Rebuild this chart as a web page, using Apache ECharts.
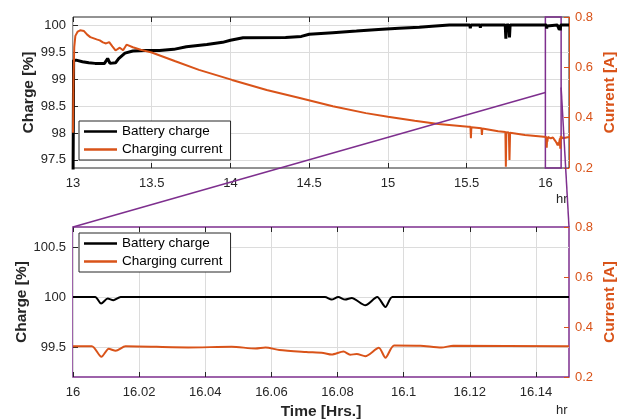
<!DOCTYPE html>
<html>
<head>
<meta charset="utf-8">
<script src="https://cdn.jsdelivr.net/npm/echarts@6/dist/echarts.min.js"></script>
<style>html,body{margin:0;padding:0;background:#fff}#c{width:628px;height:419px}</style>
</head>
<body>
<div id="c"></div>
<script>
// ---- Data ----
// Overview (top) segment, hours 13 .. 16
const topTime   = [13.000,13.004,13.02,13.06,13.10,13.14,13.20,13.22,13.235,13.27,13.29,13.33,13.38,13.45,13.55,13.64,13.72,13.85,13.95,14.00,14.08,14.35,14.45,14.50,14.65,14.80,14.94,15.07,15.20,15.28,15.39,15.52,15.523,15.527,15.585,15.587,15.59,15.745,15.749,15.753,15.768,15.772,15.776,15.99];
const topCharge = [97.0,99.35,99.35,99.32,99.30,99.29,99.29,99.38,99.29,99.30,99.38,99.48,99.52,99.53,99.53,99.55,99.60,99.64,99.68,99.72,99.765,99.77,99.79,99.83,99.86,99.89,99.92,99.94,99.96,99.98,100,100,99.94,100,100,99.95,100,100,99.75,100,100,99.77,100,100];
const curTime   = [13.000,13.003,13.008,13.015,13.03,13.045,13.07,13.09,13.11,13.15,13.17,13.19,13.21,13.23,13.25,13.27,13.297,13.318,13.34,13.38,13.43,13.50,13.56,13.65,13.80,14.01,14.23,14.44,14.65,14.86,15.00,15.17,15.32,15.51,15.524,15.527,15.530,15.594,15.597,15.600,15.70,15.746,15.749,15.752,15.768,15.772,15.776,15.87,15.99];
const topCurrent= [0.34,0.55,0.68,0.725,0.742,0.747,0.744,0.73,0.72,0.711,0.707,0.699,0.695,0.700,0.683,0.667,0.678,0.668,0.690,0.680,0.670,0.659,0.645,0.624,0.590,0.550,0.510,0.478,0.445,0.418,0.404,0.388,0.375,0.364,0.364,0.318,0.362,0.358,0.331,0.357,0.346,0.343,0.205,0.342,0.341,0.232,0.340,0.331,0.324];
// Detail (zoomed) segment, hours 16 .. 16.15
const detChargeTime = [16.000,16.0067,16.0085,16.0105,16.0122,16.0144,16.0762,16.0782,16.0802,16.0823,16.0843,16.0884,16.092,16.0945,16.0966,16.150];
const detCharge     = [100,100,99.934,99.984,99.967,100,100,99.974,100,99.974,99.99,99.917,100,99.9,100,100];
const detCurTime    = [16.000,16.0057,16.0086,16.0108,16.0129,16.0159,16.0348,16.048,16.0552,16.0582,16.0624,16.0705,16.0757,16.0782,16.0818,16.0838,16.0858,16.0884,16.0925,16.0945,16.0971,16.105,16.1114,16.115,16.150];
const detCurrent    = [0.323,0.323,0.281,0.313,0.305,0.323,0.318,0.321,0.314,0.318,0.308,0.300,0.296,0.290,0.302,0.289,0.292,0.283,0.317,0.277,0.326,0.325,0.318,0.325,0.323];
// Tick labels
const topXTicks = [13,13.5,14,14.5,15,15.5,16];
const topYTicks = [97.5,98,98.5,99,99.5,100];
const botXTicks = [16,16.02,16.04,16.06,16.08,16.1,16.12,16.14];
const botYTicks = [99.5,100,100.5];
const curTicks  = [0.2,0.4,0.6,0.8];
const seriesNames = ['Battery charge','Charging current'];

// ---- Styles ----
const FONT = 'Liberation Sans, Arial, Helvetica, sans-serif';
const AX = '#262626', GRIDC = '#dcdcdc', ORANGE = '#D95319', PURPLE = '#7E2F8E';
const zip = (a,b) => a.map((v,i)=>[v,b[i]]);
const topChargeData = zip(topTime, topCharge).concat(zip(detChargeTime, detCharge));
const topCurData = zip(curTime, topCurrent).concat(zip(detCurTime, detCurrent));

function xAxisDef(grid, min, max, ticks, pos, showLabel, name) {
  return {
    type:'value', gridIndex:grid, min:min, max:max, position:pos,
    axisLine:{show:false},
    axisTick:{show:true, inside:true, length:5, customValues:ticks, lineStyle:{color:AX}},
    axisLabel:{show:showLabel, customValues:ticks, color:AX, fontFamily:FONT, fontSize:13, margin:9},
    splitLine:{show:showLabel, lineStyle:{color:GRIDC, width:1}},
    name: name || '', nameLocation:'middle', nameGap:27, nameMoveOverlap:false,
    nameTextStyle:{color:AX, fontFamily:FONT, fontSize:15.5, fontWeight:'bold'}
  };
}
function leftY(grid, min, max, ticks, gap) {
  return {
    type:'value', gridIndex:grid, min:min, max:max, position:'left',
    axisLine:{show:false},
    axisTick:{show:true, inside:true, length:5, customValues:ticks, lineStyle:{color:AX}},
    axisLabel:{customValues:ticks, color:AX, fontFamily:FONT, fontSize:13, margin:7},
    splitLine:{show:true, lineStyle:{color:GRIDC, width:1}},
    name:'Charge [%]', nameLocation:'middle', nameRotate:90, nameGap:gap, nameMoveOverlap:false,
    nameTextStyle:{color:AX, fontFamily:FONT, fontSize:15.5, fontWeight:'bold'}
  };
}
function rightY(grid, lineShow) {
  return {
    type:'value', gridIndex:grid, min:0.2, max:0.8, position:'right',
    axisLine:{show:lineShow, lineStyle:{color:ORANGE, width:1}},
    axisTick:{show:true, inside:true, length:5, customValues:curTicks, lineStyle:{color:ORANGE}},
    axisLabel:{customValues:curTicks, color:ORANGE, fontFamily:FONT, fontSize:13, margin:6},
    splitLine:{show:false},
    name:'Current [A]', nameLocation:'middle', nameRotate:90, nameGap:33, nameMoveOverlap:false,
    nameTextStyle:{color:ORANGE, fontFamily:FONT, fontSize:15.5, fontWeight:'bold'}
  };
}
function legendDef(top) {
  return {
    orient:'vertical', left:79, top:top, itemWidth:33, itemHeight:2.5, itemGap:3, icon:'rect',
    padding:[3,8,3,5], backgroundColor:'#fff', borderColor:AX, borderWidth:1,
    textStyle:{color:'#000', fontFamily:FONT, fontSize:13.5, lineHeight:15},
    data:seriesNames
  };
}

const chart = echarts.init(document.getElementById('c'), null, {renderer:'canvas'});
const option = {
  animation:false,
  backgroundColor:'#fff',
  grid:[
    {left:73, top:17, width:496, height:151, show:true, borderColor:AX, borderWidth:1, backgroundColor:'transparent', containLabel:false, outerBoundsMode:'none'},
    {left:73, top:227, width:496, height:150, show:true, borderColor:PURPLE, borderWidth:1.5, backgroundColor:'transparent', containLabel:false, outerBoundsMode:'none'}
  ],
  xAxis:[
    xAxisDef(0, 13, 16.15, topXTicks, 'bottom', true),
    xAxisDef(1, 16, 16.15, botXTicks, 'bottom', true, 'Time [Hrs.]'),
    xAxisDef(0, 13, 16.15, topXTicks, 'top', false),
    xAxisDef(1, 16, 16.15, botXTicks, 'top', false)
  ],
  yAxis:[
    leftY(0, 97.35, 100.15, topYTicks, 36),
    rightY(0, true),
    leftY(1, 99.2, 100.7, botYTicks, 43),
    rightY(1, false)
  ],
  legend:[legendDef(121), legendDef(233)],
  series:[
    {name:seriesNames[0], type:'line', xAxisIndex:0, yAxisIndex:0, data:topChargeData, symbol:'none',
     lineStyle:{color:'#000', width:3}, itemStyle:{color:'#000'}, z:3},
    {name:seriesNames[1], type:'line', xAxisIndex:0, yAxisIndex:1, data:topCurData, symbol:'none',
     lineStyle:{color:ORANGE, width:2}, itemStyle:{color:ORANGE}, z:3,
     markArea:{silent:true, itemStyle:{color:'rgba(0,0,0,0)', borderColor:PURPLE, borderWidth:1.5},
       data:[[{xAxis:16},{xAxis:16.1}]]}},
    {name:seriesNames[0], type:'line', xAxisIndex:1, yAxisIndex:2, data:zip(detChargeTime, detCharge), symbol:'none',
     smooth:0.25, lineStyle:{color:'#000', width:2}, itemStyle:{color:'#000'}, z:3},
    {name:seriesNames[1], type:'line', xAxisIndex:1, yAxisIndex:3, data:zip(detCurTime, detCurrent), symbol:'none',
     smooth:0.25, lineStyle:{color:ORANGE, width:2}, itemStyle:{color:ORANGE}, z:3}
  ]
};
chart.setOption(option);

// zoom connector lines + unit labels
const p1 = chart.convertToPixel({xAxisIndex:0, yAxisIndex:1}, [16, 0.5]);
const p2 = chart.convertToPixel({xAxisIndex:1, yAxisIndex:3}, [16, 0.8]);
const p3 = chart.convertToPixel({xAxisIndex:0, yAxisIndex:1}, [16.1, 0.52]);
const p4 = chart.convertToPixel({xAxisIndex:1, yAxisIndex:3}, [16.15, 0.8]);
chart.setOption({
  graphic:[
    {type:'line', z:50, shape:{x1:p1[0], y1:p1[1], x2:p2[0], y2:p2[1]}, style:{stroke:PURPLE, lineWidth:1.5}},
    {type:'line', z:50, shape:{x1:p3[0], y1:p3[1], x2:p4[0], y2:p4[1]}, style:{stroke:PURPLE, lineWidth:1.5}},
    {type:'text', left:556, top:193, style:{text:'hr', fill:AX, font:'13px ' + FONT}},
    {type:'text', left:556, top:404, style:{text:'hr', fill:AX, font:'13px ' + FONT}}
  ]
});
</script>
</body>
</html>
